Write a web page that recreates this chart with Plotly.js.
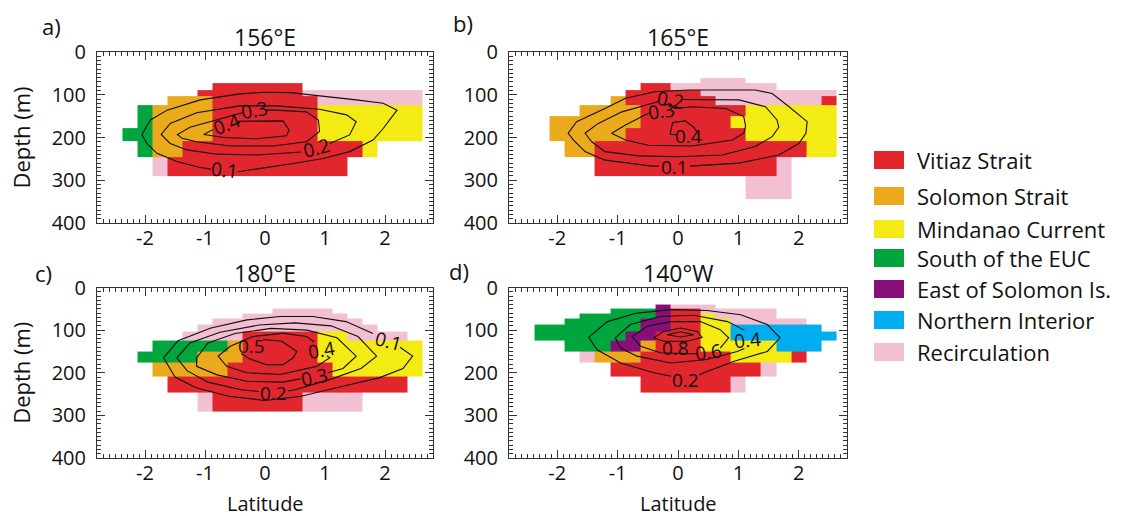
<!DOCTYPE html>
<html><head><meta charset="utf-8">
<script src="https://cdn.plot.ly/plotly-3.0.1.min.js"></script>
<style>html,body{margin:0;padding:0;background:#fff}#chart{width:1136px;height:516px}</style>
</head><body><div id="chart"></div>
<script>
// ---------- data ----------
const categories = ["Vitiaz Strait","Solomon Strait","Mindanao Current","South of the EUC","East of Solomon Is.","Northern Interior","Recirculation"];
const categoryCodes = ["R","O","Y","G","P","B","K"];
const categoryColors = ["#E1262D","#EBAA1C","#F4EB14","#00A53D","#880F7A","#00AEEF","#F3BFD3"];
const latCenters = [-2.5,-2.25,-2,-1.75,-1.5,-1.25,-1,-0.75,-0.5,-0.25,0,0.25,0.5,0.75,1,1.25,1.5,1.75,2,2.25,2.5];
const depthEdges = [40,50,61,73,88,104,125,150,177,208,247,290,345];
const latTicks = [-2,-1,0,1,2];
const depthTicks = [0,100,200,300,400];
const panelTitles = ["156°E","165°E","180°E","140°W"];
const panelLetters = ["a)","b)","c)","d)"];
const xTitle = "Latitude";
const yTitle = "Depth (m)";

const gridA = [
".....................",
".....................",
".....................",
".......RRRRRR........",
"......RRRRRRRKKKKKKKK",
"....OOORRRRRRRKKKKKKK",
"..GOOOORRRRRRRYYYYYYY",
"..GOOOORRRRRRRYYYYYYY",
".GGOOOORRRRRRRYYYYYYY",
"..GOORRRRRRRRRRRRY...",
"...KRRRRRRRRRRRR.....",
"....................."];
const gridB = [
".....................",
".....................",
"............KKK......",
"........RRKKKKKKK....",
".......RRRRRKKKKKKKKK",
"......ORRRRRRKKKKKKKR",
"....OOOORRRRRRRYYYYYY",
"..OOOOOORRRRRRYYYYYYY",
"..OOOOORRRRRRRRYYYYYY",
"...OORRRRRRRRRRRRRRYY",
".....RRRRRRRRRRRRK...",
"...............KKK..."];
const gridC = [
".....................",
"...........KKKK......",
".........KKKKKKK.....",
".......KKKKKKKKKK....",
"......KKKKKKKKKKKK...",
".....KKKKRRRRRYYKKKK.",
"...GGGGGORRRRRYYYYYYY",
"..GGGGOOORRRRRYYYYYYY",
"...OOOOORRRRRRRYYYYYY",
"....RRRRRRRRRRRRRRRR.",
"......KRRRRRRKKKK....",
"....................."];
const gridD = [
".........PKKK........",
"......GGGPRRKKKKK....",
"....GGGGGPRRYKKKK....",
"...GGGGGPPRRYYKKKKK..",
".GGGGGGGPPRRYYBBBBBB.",
".GGGGGGPPRRRYYBBBBBBB",
"...GGGPPORRRYYYYYBBB.",
"....KOOORRRRRRYYYYR..",
"......RRRRRRRRRRK....",
"........RRRRRRK......",
".....................",
"....................."];

// contour polylines (latitude, depth); open ends = gap at a label
const contoursA = [
 {lat:[-0.45,-0.03,0.42,0.97,1.41,1.80,1.97,2.20,1.97,1.52,0.97,0.42,-0.03,-0.42,-1.08,-1.63,-1.91,-2.05,-1.97,-1.80,-1.47,-1.08,-0.90],
  depth:[280,272,262,249,233,206,179,136,120,112,104,95,94,98,112,136,159,193,214,237,256,270,274]},
 {lat:[1.08,1.41,1.52,1.36,0.91,0.19,-0.42,-1.14,-1.58,-1.73,-1.58,-1.30,-0.80,-0.14,0.60],
  depth:[214,194,163,147,134,126,126,142,167,193,214,229,239,241,234]},
 {lat:[0.02,0.19,0.69,0.89,0.91,0.69,0.14,-0.58,-1.14,-1.38,-1.46,-1.25,-0.86,-0.38],
  depth:[136,136,140,159,186,210,220,220,210,202,193,176,161,142]},
 {lat:[-0.45,0.30,0.40,0.36,-0.14,-0.69,-1.02,-0.86],
  depth:[162,161,182,196,203,200,193,181]}
];
const labelsA = [
 {text:"0.4",lat:-0.64,depth:168,angle:-22},
 {text:"0.3",lat:-0.17,depth:135,angle:-10},
 {text:"0.2",lat:0.85,depth:224,angle:-14},
 {text:"0.1",lat:-0.68,depth:277,angle:6}
];
const contoursB = [
 {lat:[0.20,1.01,1.67,2.00,2.12,2.14,1.84,1.56,1.28,0.73,0.18,-0.38,-0.87,-1.21,-1.68,-1.82,-1.73,-1.54,-1.21,-0.43,-0.32],
  depth:[267,260,241,214,190,163,128,97,89,89,89,93,108,132,163,190,206,233,253,267,267]},
 {lat:[0.06,0.45,1.01,1.45,1.64,1.67,1.56,1.28,0.73,0.01,-0.65,-1.21,-1.43,-1.54,-1.32,-0.93,-0.54,-0.32],
  depth:[111,111,112,128,159,176,198,221,241,245,243,233,210,190,167,140,124,116]},
 {lat:[-0.07,0.23,0.79,1.09,1.12,1.09,0.90,0.23,-0.49,-0.87,-1.10,-0.87,-0.54,-0.46],
  depth:[132,128,132,151,173,190,206,220,218,206,190,171,147,142]},
 {lat:[-0.03,-0.13,-0.09,0.12,0.26,0.31],
  depth:[194,192,165,161,176,186]}
];
const labelsB = [
 {text:"0.2",lat:-0.13,depth:113,angle:10},
 {text:"0.3",lat:-0.27,depth:137,angle:-8},
 {text:"0.4",lat:0.17,depth:196,angle:0},
 {text:"0.1",lat:-0.06,depth:268,angle:0}
];
const contoursC = [
 {lat:[2.25,2.46,2.30,1.90,1.35,0.60,0.00,-0.60,-1.15,-1.50,-1.69,-1.45,-0.90,-0.30,0.25,0.80,1.35,1.80],
  depth:[140,161,190,212,230,255,265,255,235,210,165,125,95,76,68,68,80,108]},
 {lat:[0.38,0.50,1.10,1.60,1.86,1.55,1.10,0.50,-0.10,-0.75,-1.25,-1.47,-1.30,-0.95,-0.40,-0.10],
  depth:[243,240,215,190,161,115,90,83,88,105,130,165,195,222,240,244]},
 {lat:[0.60,0.30,-0.30,-0.80,-1.14,-1.14,-0.95,-0.50,0.10,0.70,1.20,1.52,1.30,1.05],
  depth:[214,222,220,205,185,165,130,108,96,100,118,161,190,200]},
 {lat:[1.03,1.08,0.86,0.25,-0.30,-0.64,-0.78,-0.58,-0.20,0.30,0.69,0.82],
  depth:[160,165,185,204,200,185,161,138,115,107,115,128]},
 {lat:[-0.03,0.28,0.53,0.47,0.30,0.03,-0.25,-0.40],
  depth:[122,126,150,165,181,181,168,155]}
];
const labelsC = [
 {text:"0.5",lat:-0.22,depth:138,angle:0},
 {text:"0.4",lat:0.94,depth:146,angle:-10},
 {text:"0.3",lat:0.83,depth:210,angle:-12},
 {text:"0.2",lat:0.14,depth:247,angle:0},
 {text:"0.1",lat:2.05,depth:126,angle:15}
];
const contoursD = [
 {lat:[0.35,0.43,0.93,1.48,1.69,1.48,1.04,0.48,-0.12,-0.68,-1.17,-1.48,-1.34,-0.95,-0.40,-0.12],
  depth:[205,200,173,150,118,87,64,54,52,60,80,117,146,177,200,208]},
 {lat:[1.10,0.98,0.48,-0.12,-0.68,-0.95,-1.04,-0.79,-0.29,0.26,0.82,1.10],
  depth:[143,150,169,177,161,142,118,87,68,65,80,100]},
 {lat:[0.70,0.84,0.70,0.37,-0.12,-0.51,-0.76,-0.62,-0.29,0.26,0.32],
  depth:[142,118,99,80,80,91,115,138,153,157,156]},
 {lat:[-0.40,-0.24,0.04,0.32,0.40,0.15,-0.24,-0.40],
  depth:[118,103,95,103,117,126,126,118]},
 {lat:[-0.18,0.04,0.26,0.04,-0.18],
  depth:[111,104,111,116,111]}
];
const labelsD = [
 {text:"0.8",lat:-0.04,depth:143,angle:0},
 {text:"0.6",lat:0.51,depth:151,angle:-8},
 {text:"0.4",lat:1.15,depth:122,angle:-5},
 {text:"0.2",lat:0.12,depth:217,angle:0}
];

// ---------- build ----------
const grids = [gridA,gridB,gridC,gridD];
const contours = [contoursA,contoursB,contoursC,contoursD];
const labels = [labelsA,labelsB,labelsC,labelsD];
const FONT = "Open Sans, Noto Sans, sans-serif";
const W = 1136, H = 516;
// panel boxes in px (left, right, top, bottom)
const boxes = [[97,433,52,223],[509,847,52,223],[97,433,287.5,458],[509,847,287.5,458]];

const nCat = categories.length;
const colorscale = [];
categoryColors.forEach((c,i)=>{ colorscale.push([i/nCat,c]); colorscale.push([(i+1)/nCat,c]); });

const traces = [];
const annotations = [];
const shapes = [];
const layout = {
  width: W, height: H, margin:{l:0,r:0,t:0,b:0},
  paper_bgcolor:"#fff", plot_bgcolor:"rgba(0,0,0,0)",
  showlegend:false, font:{family:FONT,color:"#111"}
};

grids.forEach((g,p)=>{
  const sfx = p===0 ? "" : String(p+1);
  const z = g.map(row => row.padEnd(latCenters.length,".").slice(0,latCenters.length).split("").map(ch=>{
    const k = categoryCodes.indexOf(ch); return k<0 ? null : k+1; }));
  traces.push({type:"heatmap", x:latCenters, y:depthEdges, z:z, xaxis:"x"+sfx, yaxis:"y"+sfx,
    colorscale:colorscale, zmin:0.5, zmax:nCat+0.5, showscale:false, hoverinfo:"skip", zsmooth:false});
  contours[p].forEach(c=>{
    traces.push({type:"scatter", mode:"lines", x:c.lat, y:c.depth, xaxis:"x"+sfx, yaxis:"y"+sfx,
      line:{color:"#111",width:1.1}, hoverinfo:"skip", connectgaps:false});
  });
  labels[p].forEach(l=>{
    annotations.push({xref:"x"+sfx, yref:"y"+sfx, x:l.lat, y:l.depth, text:l.text, textangle:l.angle,
      showarrow:false, font:{family:FONT,size:19,color:"#111"}, xanchor:"center", yanchor:"middle"});
  });
  const b = boxes[p];
  const common = {showline:true, linecolor:"#333", linewidth:1, mirror:"allticks", ticks:"inside",
    ticklen:8, tickwidth:1, tickcolor:"#333", showgrid:false, zeroline:false,
    tickfont:{family:FONT,size:20,color:"#111"}};
  layout["xaxis"+sfx] = Object.assign({}, common, {
    domain:[b[0]/W, b[1]/W], range:[-2.8,2.8], anchor:"y"+sfx,
    tickmode:"array", tickvals:latTicks, ticktext:latTicks.map(String),
    minor:{dtick:0.1, tick0:0, ticklen:4, tickcolor:"#333", ticks:"inside", showgrid:false},
    ticklabelstandoff:-3, title:{text:""}
  });
  layout["yaxis"+sfx] = Object.assign({}, common, {
    domain:[1-b[3]/H, 1-b[2]/H], range:[400,0], anchor:"x"+sfx,
    tickmode:"array", tickvals:depthTicks, ticktext:depthTicks.map(String),
    minor:{dtick:10, tick0:0, ticklen:4, tickcolor:"#333", ticks:"inside", showgrid:false},
    ticklabelstandoff:6,
    title: (p%2===0) ? {text:yTitle, font:{family:FONT,size:22,color:"#111"}, standoff:14} : {text:""}
  });
  if (p>=2) {
    annotations.push({xref:"paper", yref:"paper", x:((b[0]+b[1])/2)/W, y:1-503/H, text:xTitle,
      showarrow:false, xanchor:"center", yanchor:"middle", font:{family:FONT,size:20,color:"#111"}});
  }
  annotations.push({xref:"paper", yref:"paper", x:((b[0]+b[1])/2)/W, y:1-(b[2]-15)/H, text:panelTitles[p],
    showarrow:false, xanchor:"center", yanchor:"middle", font:{family:FONT,size:23,color:"#111"}});
});

const letterPos = [[51,26],[463,23],[43,273],[459,271]];
panelLetters.forEach((t,i)=>{
  annotations.push({xref:"paper", yref:"paper", x:letterPos[i][0]/W, y:1-letterPos[i][1]/H, text:t,
    showarrow:false, xanchor:"center", yanchor:"middle", font:{family:FONT,size:22,color:"#111"}});
});

// legend drawn as swatches + text
const legendRows = [160,196,229,258,289,320,352];
categories.forEach((name,i)=>{
  const yc = legendRows[i];
  shapes.push({type:"rect", xref:"paper", yref:"paper", x0:874/W, x1:904/W, y0:1-(yc+9)/H, y1:1-(yc-9)/H,
    fillcolor:categoryColors[i], line:{width:0}});
  annotations.push({xref:"paper", yref:"paper", x:915/W, y:1-yc/H, text:name, showarrow:false,
    xanchor:"left", yanchor:"middle", font:{family:FONT,size:22,color:"#111"}});
});

layout.annotations = annotations;
layout.shapes = shapes;
Plotly.newPlot("chart", traces, layout, {staticPlot:true, displayModeBar:false});
</script></body></html>
